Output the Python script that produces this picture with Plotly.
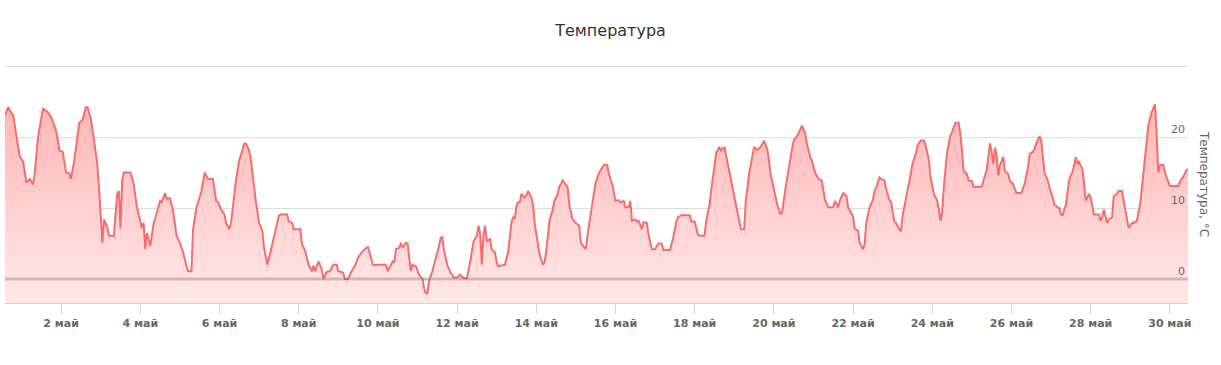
import pandas as pd
import plotly.graph_objects as go

# ---- data (hours after 30 Apr 00:00, temperature in °C) ----
BASE = pd.Timestamp("2023-04-30 00:00")
hours = [14, 16, 18, 19, 21, 23, 24, 25, 27, 29, 31, 32, 34, 37, 40, 42, 45, 47, 49, 50,
         51, 53, 54, 56, 58, 59, 61, 63, 64, 66, 68, 70, 71, 72, 73, 74, 76, 77, 80, 81,
         82, 83, 84, 85, 86, 90, 92, 94, 96, 97, 98, 99, 100, 102, 104, 106, 108, 109, 111, 112,
         114, 116, 118, 120, 122, 124, 125, 127, 128, 130, 133, 134, 135, 137, 140, 142, 143, 145, 147, 148,
         150, 151, 153, 154, 156, 157, 159, 160, 162, 163, 165, 166, 168, 170, 171, 173, 175, 178, 180, 181,
         185, 186, 188, 189, 193, 194, 196, 198, 200, 201, 202, 204, 206, 207, 209, 211, 213, 215, 216, 218,
         219, 220, 222, 224, 226, 228, 230, 232, 234, 235, 237, 240, 245, 246, 248, 249, 250, 251, 253, 254,
         255, 257, 258, 260, 261, 263, 265, 267, 268, 269, 270, 271, 273, 275, 277, 278, 279, 280, 282, 284,
         286, 288, 290, 292, 294, 296, 298, 300, 301, 302, 303, 304, 305, 306, 308, 309, 311, 312, 313, 315,
         317, 319, 321, 322, 323, 324, 325, 326, 327, 329, 330, 331, 333, 334, 335, 337, 338, 340, 341, 342,
         344, 346, 347, 349, 350, 352, 353, 355, 356, 358, 360, 362, 363, 365, 366, 368, 370, 372, 374, 375,
         377, 379, 380, 382, 383, 384, 386, 387, 389, 390, 392, 393, 394, 396, 397, 398, 400, 401, 403, 404,
         406, 408, 410, 412, 413, 417, 419, 421, 422, 424, 429, 430, 432, 434, 436, 438, 439, 441, 442, 444,
         445, 447, 448, 450, 451, 452, 454, 456, 457, 459, 460, 462, 463, 465, 466, 468, 470, 472, 474, 476,
         477, 478, 480, 482, 484, 485, 487, 489, 491, 492, 495, 497, 499, 500, 502, 503, 505, 507, 509, 511,
         513, 516, 517, 519, 520, 522, 524, 525, 528, 529, 531, 532, 534, 535, 536, 538, 540, 541, 542, 544,
         545, 547, 548, 550, 551, 553, 554, 556, 557, 558, 560, 561, 563, 564, 566, 567, 569, 571, 572, 574,
         575, 577, 579, 580, 581, 582, 583, 585, 587, 588, 590, 592, 593, 594, 595, 597, 598, 600, 601, 606,
         608, 609, 610, 611, 612, 613, 614, 615, 616, 617, 619, 620, 622, 623, 625, 627, 630, 632, 634, 635,
         637, 638, 639, 641, 642, 643, 644, 646, 647, 649, 650, 652, 653, 654, 655, 657, 659, 660, 661, 663,
         664, 665, 667, 668, 669, 671, 672, 674, 677, 678, 679, 680, 682, 683, 685, 686, 688, 689, 691, 692,
         694, 695, 696, 697, 698, 700, 702, 704, 706, 707, 709, 711, 712, 713, 714, 716, 717, 719, 720, 725,
         727, 728, 730, 731]
temps = [23.1, 24.2, 23.3, 23.1, 20.0, 17.2, 16.9, 16.5, 13.6, 14.1, 13.3, 14.8, 20.0, 24.0, 23.5, 22.8, 20.9, 18.1, 17.9, 16.7,
         15.0, 14.9, 14.1, 16.7, 20.0, 22.0, 22.4, 24.2, 24.2, 22.6, 19.5, 16.0, 12.7, 8.7, 5.1, 8.4, 7.2, 6.1, 6.1, 9.1,
         12.0, 12.4, 7.2, 13.9, 15.0, 15.0, 13.4, 10.1, 8.2, 7.2, 7.9, 4.2, 6.5, 4.6, 7.7, 9.4, 11.0, 10.8, 12.1, 11.3,
         11.4, 9.4, 6.1, 5.1, 3.7, 1.8, 1.1, 1.1, 7.0, 10.0, 12.3, 13.6, 15.0, 14.1, 14.1, 11.0, 10.9, 9.8, 9.1, 7.9,
         7.0, 7.9, 12.0, 13.9, 16.7, 17.6, 19.1, 19.1, 18.1, 16.9, 12.9, 11.0, 7.9, 6.8, 4.4, 2.0, 3.9, 6.8, 8.9, 9.1,
         9.1, 8.1, 7.9, 7.0, 7.0, 4.9, 3.9, 2.0, 1.1, 1.9, 1.1, 2.5, 1.3, 0.0, 1.0, 1.1, 2.0, 2.0, 1.1, 1.0,
         0.9, 0.0, 0.0, 1.1, 1.8, 3.0, 3.7, 4.2, 4.5, 3.7, 2.0, 2.0, 2.0, 1.1, 2.0, 2.5, 2.3, 4.2, 4.4, 5.1,
         4.4, 5.1, 5.0, 1.1, 2.0, 1.8, 0.6, 0.0, -1.3, -2.0, -2.0, -0.3, 1.1, 2.7, 4.6, 5.8, 5.9, 4.2, 2.0, 0.9,
         0.2, 0.2, 0.6, 0.1, 0.1, 2.5, 5.3, 6.1, 7.5, 6.3, 2.0, 6.3, 7.5, 5.3, 5.6, 4.2, 3.7, 2.3, 1.8, 1.9,
         2.0, 3.9, 8.0, 8.7, 8.6, 10.3, 10.8, 10.8, 12.0, 11.5, 11.7, 12.4, 11.5, 10.5, 7.9, 4.9, 3.5, 2.0, 2.3, 3.9,
         8.2, 9.8, 11.0, 12.0, 13.0, 13.9, 13.6, 12.9, 10.5, 8.4, 7.9, 7.5, 5.1, 4.4, 4.2, 7.7, 11.0, 13.6, 14.9, 15.3,
         16.1, 16.1, 14.8, 13.4, 12.0, 11.0, 11.1, 10.8, 11.0, 10.1, 10.1, 11.0, 8.2, 8.4, 8.1, 8.2, 7.0, 8.0, 7.9, 6.3,
         4.2, 4.2, 5.0, 5.0, 4.1, 4.1, 5.8, 8.2, 8.7, 9.0, 9.0, 8.1, 8.1, 6.2, 6.1, 6.1, 8.2, 10.5, 12.4, 15.7,
         17.7, 18.6, 18.1, 18.6, 17.4, 16.0, 14.1, 11.3, 10.5, 8.2, 7.0, 7.0, 11.0, 14.8, 16.2, 18.6, 18.2, 18.6, 19.5, 18.3,
         16.7, 14.8, 12.7, 10.5, 9.1, 9.4, 12.7, 15.7, 18.3, 19.5, 20.5, 21.6, 20.5, 19.1, 17.2, 16.7, 15.0, 14.1, 13.9, 11.1,
         10.1, 10.1, 11.0, 10.1, 11.1, 12.1, 11.7, 10.1, 8.8, 7.1, 6.8, 5.1, 4.2, 4.9, 7.9, 10.1, 11.1, 12.4, 12.8, 14.3,
         14.1, 13.9, 12.7, 11.1, 10.9, 8.1, 7.9, 7.0, 6.7, 8.9, 11.1, 12.2, 14.8, 16.2, 17.6, 18.8, 19.5, 19.5, 18.8, 16.7,
         14.3, 12.0, 11.0, 9.8, 8.2, 9.4, 12.9, 17.9, 20.2, 20.7, 22.0, 22.0, 20.5, 18.1, 15.2, 14.8, 13.9, 13.8, 13.0, 13.0,
         14.8, 15.4, 17.2, 19.1, 17.9, 16.2, 18.5, 17.4, 14.6, 16.0, 17.2, 15.2, 14.8, 13.8, 13.4, 12.1, 12.1, 13.4, 15.7, 17.6,
         17.9, 18.3, 19.1, 20.1, 19.5, 16.9, 15.0, 13.9, 12.9, 11.5, 10.5, 10.1, 10.0, 9.1, 9.0, 10.5, 13.9, 14.6, 15.0, 17.2,
         16.2, 16.5, 15.5, 13.4, 11.0, 12.0, 11.5, 9.1, 9.1, 8.2, 8.7, 9.8, 7.9, 8.4, 8.7, 11.7, 12.0, 12.4, 12.4, 11.0,
         8.2, 7.2, 7.5, 7.9, 7.9, 8.2, 10.5, 15.3, 19.5, 21.7, 23.5, 24.6, 20.5, 15.0, 16.0, 16.1, 15.0, 13.9, 13.1, 13.1,
         14.1, 14.3, 15.3, 15.5]

y_ticks = [0, 10, 20, 30]
y_tick_text = ["0", "10", "20", ""]
tick_days = list(range(2, 31, 2))
tick_vals = [pd.Timestamp(2023, 5, d) for d in tick_days]
tick_text = [f"{d} май" for d in tick_days]

Y_MIN, Y_MAX = -3.38, 30.15

times = [BASE + pd.Timedelta(hours=h) for h in hours]

fig = go.Figure()
# baseline at the bottom of the plot area so the area fills to the axis bottom
fig.add_trace(go.Scatter(
    x=[times[0], times[-1]], y=[Y_MIN, Y_MIN], mode="lines",
    line=dict(width=0, color="rgba(0,0,0,0)"), showlegend=False, hoverinfo="skip"))
fig.add_trace(go.Scatter(
    x=times, y=temps, mode="lines", name="Температура",
    line=dict(color="#f56e6e", width=2),
    fill="tonexty",
    fillgradient=dict(type="vertical",
                      colorscale=[[0, "rgb(255,232,232)"], [1, "rgb(255,182,182)"]],
                      start=Y_MIN, stop=max(temps)),
    showlegend=False))

fig.add_shape(type="line", xref="paper", x0=0, x1=1, yref="y", y0=0, y1=0,
              line=dict(color="rgba(120,100,100,0.35)", width=3), layer="above")

fig.add_annotation(text="Температура, °C", xref="paper", x=1, xshift=16,
                   yref="paper", y=0.5, textangle=90, showarrow=False,
                   xanchor="center", yanchor="middle",
                   font=dict(family="DejaVu Sans", size=12, color="#666666"))

fig.update_layout(
    width=1221, height=365,
    margin=dict(l=5, r=33, t=65, b=62),
    paper_bgcolor="white", plot_bgcolor="white",
    title=dict(text="Температура", x=0.5, xref="container", xanchor="center",
               y=1 - 30 / 365, yref="container", yanchor="middle",
               font=dict(family="DejaVu Sans", size=16, color="#333333")),
    xaxis=dict(type="date", range=[times[0], times[-1]],
               tickvals=tick_vals, ticktext=tick_text,
               tickfont=dict(family="DejaVu Sans", size=11, color="#666666", weight="bold"),
               showgrid=False, zeroline=False, showline=True, linecolor="#ccd6eb", linewidth=1,
               ticks="outside", ticklen=10, tickcolor="#ccd6eb", tickwidth=1),
    yaxis=dict(side="right", range=[Y_MIN, Y_MAX], tickvals=y_ticks, ticktext=y_tick_text,
               ticklabelposition="inside top",
               tickfont=dict(family="DejaVu Sans", size=11, color="#666666"),
               showgrid=True, gridcolor="#dcdcdc", gridwidth=1, zeroline=False,
               showline=False, ticks=""),
    hovermode=False,
)

fig.write_html("out.html", config={"displayModeBar": False},
               post_script="document.body.style.margin='0';")
